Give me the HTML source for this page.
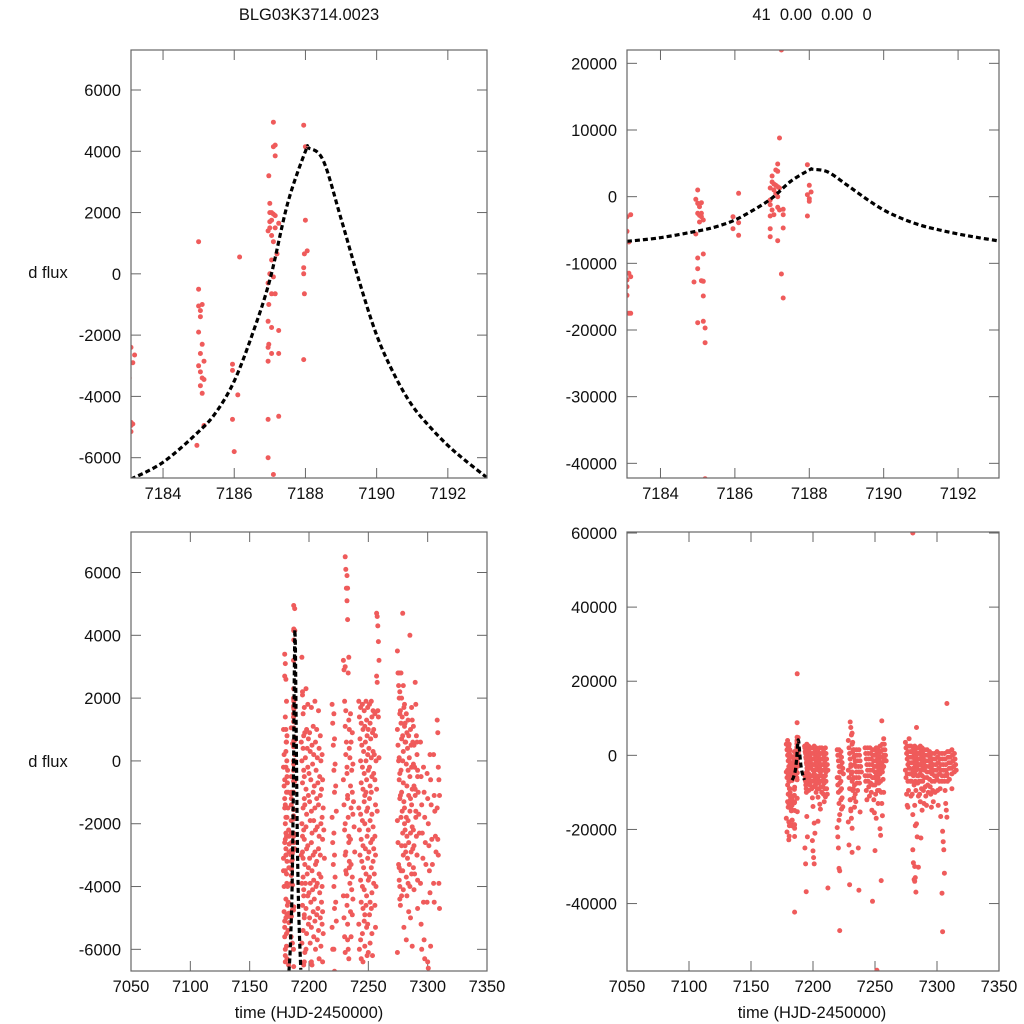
<!DOCTYPE html>
<html><head><meta charset="utf-8">
<style>
html,body{margin:0;padding:0;background:#fff;}
svg{display:block;font-family:"Liberation Sans",Arial,sans-serif;}
</style></head>
<body>
<svg id="chart" width="1024" height="1024" viewBox="0 0 1024 1024">
<defs>
<clipPath id="c0"><rect x="131" y="50" width="356" height="428"/></clipPath>
<clipPath id="c1"><rect x="627" y="50" width="372" height="428"/></clipPath>
<clipPath id="c2"><rect x="131" y="532" width="356" height="439"/></clipPath>
<clipPath id="c3"><rect x="627" y="532" width="372" height="439"/></clipPath>
</defs>
<text x="309" y="20" text-anchor="middle" font-size="16.5" fill="#111">BLG03K3714.0023</text>
<text x="812" y="20" text-anchor="middle" font-size="16.5" fill="#111" xml:space="preserve">41  0.00  0.00  0</text>
<text x="48" y="278" text-anchor="middle" font-size="16.5" fill="#111">d flux</text>
<text x="48" y="767" text-anchor="middle" font-size="16.5" fill="#111">d flux</text>
<text x="309" y="1018" text-anchor="middle" font-size="16.5" fill="#111">time (HJD-2450000)</text>
<text x="812" y="1018" text-anchor="middle" font-size="16.5" fill="#111">time (HJD-2450000)</text>
</svg>
<script>
// ---- model curve ----
const modelT = [7183.1,7184,7185,7185.5,7186,7186.5,7187,7187.5,7188,7188.1,7188.5,7189,7189.5,7190,7190.5,7191,7191.5,7192,7192.5,7193.1];
const modelF = [-6700,-6150,-5150,-4500,-3500,-2000,-200,2300,4000,4100,3700,1800,-200,-2000,-3300,-4300,-5000,-5600,-6100,-6650];

// ---- dataset 1 (left panels), zoom points ----
const d1T = [7183.1,7183.15,7183.2,7183.05,7183.1,7183.15,7183.1,7183.1,7185.0,7185.0,7185.0,7185.05,7185.1,7185.05,7185.0,7185.1,7185.05,7185.0,7185.05,7185.1,7185.15,7185.15,7185.05,7185.1,7185.15,7184.95,7185.95,7185.95,7186.15,7186.1,7185.95,7186.0,7187.1,7187.1,7187.15,7187.15,7186.97,7187.0,7187.0,7187.05,7187.1,7187.15,7187.0,7187.05,7186.95,7187.0,7187.15,7187.25,7187.05,7187.1,7187.2,7187.05,7187.0,7187.1,7186.95,7187.05,7187.15,7186.97,7186.95,7187.05,7187.25,7186.97,7186.95,7187.05,7187.25,7186.95,7186.95,7187.25,7186.95,7187.1,7187.95,7188.0,7188.0,7188.05,7187.97,7187.95,7187.95,7187.97,7187.95];
const d1F = [-2400,-2900,-2650,-3400,-4850,-4900,-4950,-5150,-500,1050,-1050,-1200,-1000,-1400,-1900,-2300,-2600,-3000,-3200,-3400,-3450,-2850,-3650,-3900,-4950,-5600,-2950,-3150,550,-3950,-4750,-5800,4950,4150,4200,3850,3200,2300,2000,2000,1950,1900,1700,1750,1400,1500,1500,1650,1250,1050,650,450,0,-100,-300,-650,-650,-1000,-1550,-1750,-1850,-2300,-2400,-2600,-2600,-2850,-4750,-4650,-6000,-6550,4850,4150,1750,750,650,200,0,-650,-2800];

// ---- dataset 1, full season, per night (kilo-flux) ----
const d1Nights = [7179.5,7180.5,7181.5,7181.8,7194.5,7195,7195.5,7197,7198.5,7200,7201.5,7203,7204.5,7206,7207.5,7209,7210.5,7212,7220.5,7222,7230,7231.5,7233,7234.5,7236,7237.5,7243,7244.5,7246,7247.5,7249,7250.5,7252,7253.5,7255,7256.5,7258,7275.5,7277,7278.5,7280,7281.5,7283,7284.5,7286,7287.5,7289,7290.5,7292,7295,7297.5,7300.5,7303,7306,7309];
const d1NightFlux = [
"1.0 0.2 -0.6 -1.4 -2.3 -3.1 -4.0 -5.1 -6.2 0.3 -0.2 -0.8 -1.5 -2.5 -3.0 -3.5 -4.8 -5.3 -6.0",
"2.7 1.4 -0.2 -1.0 -1.8 -2.6 -3.5 -4.4 -5.5 -6.3 3.4 3.1 1.0 0.6 -0.5 -1.2 -2.0 -2.8 -3.6 -4.9 -5.6 -6.4",
"2.6 1.9 0.8 -0.3 -1.0 -1.8 -2.4 -3.2 -4.0 -4.5 -5.0 -5.9",
"0.6 0.0 -0.7 -1.5 -2.2 -3.0 -3.9 -4.6 -5.4 -6.5",
"0.6 0.0 -0.7 -1.5 -2.2 -3.0 -3.9 -4.6 -5.4 -6.5",
"3.3 2.1 0.4 -0.3 -1.2 -2.0 -2.9 -3.7 -4.3 -4.9 -5.8",
"2.2 1.5 0.8 -0.5 -1.4 -2.4 -3.1 -4.1 -5.0 -6.1",
"1.7 0.9 0.1 -0.9 -1.7 -2.5 -3.3 -3.9 -4.7 -5.5 -6.4",
"2.3 1.0 0.4 -0.2 -1.1 -2.1 -2.8 -3.6 -4.3 -5.2 -6.0",
"1.8 0.7 -0.4 -1.3 -1.9 -2.7 -3.4 -4.2 -5.0 -5.8",
"0.9 0.3 -0.6 -1.6 -2.3 -3.1 -3.9 -4.5 -5.3 -6.5",
"1.7 0.5 -0.1 -1.0 -1.9 -2.6 -3.5 -4.1 -4.8 -5.6 -6.4",
"1.1 0.2 -0.8 -1.5 -2.2 -3.0 -3.8 -4.4 -5.1 -6.0",
"1.9 0.6 -0.3 -1.2 -2.1 -2.9 -3.3 -4.0 -4.9 -5.7",
"1.0 0.1 -0.7 -1.4 -2.4 -3.2 -3.9 -4.7 -5.4 -6.3",
"1.6 0.4 -0.5 -1.1 -2.0 -2.8 -3.6 -4.2 -5.0 -5.9",
"0.8 0.0 -0.9 -1.8 -2.5 -3.0 -3.7 -4.5 -5.2 -6.4",
"0.2 -0.6 -1.5 -2.2 -3.1 -4.0 -4.8 -5.5",
"1.8 1.2 0.5 -0.3 -1.0 -1.8 -2.6 -3.3 -4.0 -4.7 -5.3 -6.0",
"1.5 0.7 -0.1 -0.8 -1.6 -2.3 -3.0 -3.7 -4.5 -5.1 -6.0 -6.7",
"3.2 2.9 1.9 1.1 0.2 -0.6 -1.4 -2.2 -3.0 -3.5 -4.3 -5.0 -5.6",
"6.5 6.1 5.5 5.1 4.5 3.0 1.6 0.6 -0.2 -1.2 -2.0 -2.9 -3.6 -4.6 -5.7 -6.1",
"5.9 5.5 2.8 1.3 0.4 -0.4 -1.1 -1.8 -2.6 -3.4 -4.3 -5.2 -6.0",
"3.3 1.0 0.1 -0.8 -1.5 -2.4 -3.2 -3.9 -4.8 -5.6 -6.3",
"1.5 0.6 -0.3 -1.0 -1.7 -2.5 -3.3 -4.1 -4.9",
"0.9 -0.1 -1.3 -2.1 -2.9 -3.7 -4.4",
"1.9 1.4 0.7 0.0 -0.7 -1.5 -2.2 -3.0 -3.8 -4.5 -5.2 -6.0",
"1.7 1.2 0.5 -0.2 -0.9 -1.7 -2.5 -3.2 -4.0 -4.7 -5.7 -6.3",
"1.8 1.0 0.3 -0.4 -1.1 -1.9 -2.7 -3.4 -4.1 -4.9 -5.5 -6.4",
"1.6 1.1 0.6 0.0 -0.6 -1.3 -2.0 -2.8 -3.6 -4.3 -5.1 -5.9",
"1.9 1.3 0.8 0.2 -0.3 -1.0 -1.6 -2.4 -3.1 -3.8 -4.6 -5.3 -6.2",
"1.7 1.0 0.4 -0.2 -0.8 -1.5 -2.2 -2.9 -3.7 -4.5 -5.2 -6.1",
"1.8 1.2 0.7 0.1 -0.5 -1.2 -1.9 -2.6 -3.4 -4.2 -4.9 -5.8",
"1.9 1.4 0.9 0.3 -0.4 -1.0 -1.7 -2.5 -3.2 -3.9 -4.7 -5.5 -6.2",
"1.6 1.0 0.2 -0.6 -1.4 -2.1 -2.8 -3.6 -4.6 -5.3",
"1.5 0.8 0.0 -0.9 -1.6 -2.4 -3.0 -4.0",
"4.7 4.6 4.3 3.8 3.2 2.7 2.5 1.6 1.4 0.1",
"3.5 2.8 2.4 2.0 1.5 1.0 0.5 0.0 -0.6 -1.2 -1.9 -2.6 -3.3 -3.8 -4.4 -6.1",
"2.8 2.2 1.6 1.2 0.7 0.1 -0.4 -1.1 -1.8 -2.7 -3.4 -4.0 -4.6",
"2.8 2.0 1.4 0.8 0.3 -0.3 -1.0 -1.6 -2.3 -3.0 -3.5 -4.3",
"4.7 2.4 1.7 1.1 0.6 0.0 -0.7 -1.3 -2.0 -2.7 -3.5 -4.1 -5.3",
"1.8 1.2 0.6 -0.1 -0.8 -1.5 -2.2 -2.9 -3.7 -4.3",
"1.5 0.9 0.4 -0.3 -1.1 -1.8 -2.4 -3.1 -3.9 -4.8 -5.7",
"1.3 0.8 0.1 -0.5 -1.2 -1.9 -2.6 -3.3 -4.0 -5.0",
"4.0 1.0 0.5 -0.2 -0.9 -1.6 -2.3 -2.9 -3.6 -5.9",
"1.7 1.3 0.6 -0.1 -0.8 -1.4 -2.1 -2.8 -3.4 -4.1",
"1.1 0.5 -0.2 -0.9 -1.6 -2.2 -2.7 -3.6",
"2.5 1.8 0.8 0.2 -0.5 -1.1 -1.8 -2.4 -3.0 -4.7",
"0.6 -0.3 -1.0 -1.7 -2.3 -3.0 -3.8",
"0.6 -0.5 -1.4 -2.3 -3.1 -3.9 -5.2 -6.0",
"-0.2 -1.0 -1.8 -2.6 -3.3 -4.5 -5.7 -6.3",
"-0.4 -1.2 -2.0 -2.7 -3.5 -4.5 -6.4 -6.6",
"0.2 -0.6 -1.4 -2.5 -3.3 -4.2 -5.9",
"0.2 -1.1 -1.6 -2.4 -2.9 -3.9 -4.5",
"1.3 0.9 -0.2 -0.6 -1.1 -1.5 -2.5 -3.0 -3.9 -4.7"];

// ---- dataset 2 (right panels), zoom points ----
const d2T = [7183.05,7183.1,7183.2,7183.0,7183.05,7183.1,7183.15,7183.0,7183.1,7183.15,7183.2,7183.1,7183.1,7183.15,7183.2,7183.05,7185.0,7184.95,7185.0,7185.1,7185.05,7185.0,7185.05,7185.1,7185.15,7185.05,7185.1,7184.95,7185.15,7185.0,7185.0,7184.9,7185.1,7185.15,7185.15,7185.0,7185.15,7185.2,7185.2,7185.2,7185.95,7185.95,7186.1,7186.1,7186.1,7187.25,7187.2,7187.15,7187.1,7187.15,7187.0,7187.0,7187.05,7187.1,7187.15,7187.2,7186.95,7187.05,7187.1,7187.15,7186.95,7186.95,7187.0,7187.05,7187.15,7187.2,7187.3,7187.3,7186.95,7186.95,7187.3,7186.95,7187.15,7187.25,7187.3,7187.95,7188.0,7188.05,7187.95,7188.0,7188.0,7187.95];
const d2F = [-2500,-3000,-2700,-3300,-5000,-5200,-6800,-11000,-12500,-11500,-12000,-13500,-14800,-17500,-17500,-18800,1000,-400,-1000,-900,-1500,-2500,-2800,-3000,-3500,-3800,-2500,-5600,-8600,-9200,-10800,-12800,-12600,-12700,-14900,-18900,-18700,-19700,-21900,-42300,-3000,-4800,-3900,-5800,500,22000,8800,4900,4000,3800,3100,2200,1900,1700,1500,1300,1300,1000,500,0,-500,-1200,-2000,-2700,-1600,-2000,-1900,-2700,-2900,-4800,-4700,-6000,-6600,-11600,-15200,4800,1700,700,300,-300,-700,-2900];

// ---- dataset 2, full season, per night (kilo-flux) ----
const d2Nights = [7179.5,7180.5,7181.5,7181.8,7194.2,7194.5,7196,7197.5,7199,7200.5,7202,7203.5,7205,7206.5,7208,7209.5,7211,7220.5,7222,7223.5,7229.5,7231,7232.5,7234,7236,7238,7243,7245,7247,7249,7250.5,7252,7253.5,7255,7256.5,7258,7275.5,7277,7278.5,7280,7281.5,7283,7284.5,7286,7287.5,7289,7291,7293,7295,7297,7299,7301,7303,7305,7307,7309,7311,7313,7315];
const d2NightFlux = [
"3 1.5 0 -1.5 -3 -4.5 -6 -8 -10.5 -13 -17 -20.7",
"4 2 0.5 -1 -2.5 -4 -5.5 -7 -9 -11 -12.5 -14 -22.8",
"2.5 1 -0.5 -2 -3.5 -5 -7 -10 -13 -15 -18 -19",
"3 1.5 0 -2 -4 -6 -9 -12 -14.5 -19 -21.8",
"2.5 1 -0.5 -2 -3.5 -5 -6.5 -8 -10",
"2 0.5 -1 -2.5 -4 -5.5 -7 -9 -16.5 -22 -25 -29.3 -36.8",
"3 1.5 0 -1.5 -3 -4.5 -6 -7.5 -9.5",
"2.5 1 -0.5 -2 -3.5 -5 -6.5 -8",
"2 0.5 -1 -2.5 -4 -5.5 -7 -9 -11.5 -13.8",
"2 0.5 -1 -2.5 -4 -5.5 -7 -8.5 -18.3 -21 -23 -25.8 -27.6 -29.3",
"2.5 1 -0.5 -2 -3.5 -5 -6.5 -8 -10",
"2 0.5 -1 -2.5 -4 -5.5 -7 -9 -11.3",
"1.5 0 -1.5 -3 -4.5 -6 -7.5 -9 -13.2 -14.5 -17.8",
"2 0.5 -1 -2.5 -4 -5.5 -7 -8.5 -10",
"2 0.5 -1 -2.5 -4 -5.5 -7 -8.5 -10.5 -12.5",
"1.5 0 -1.5 -3 -4.5 -6 -7.5 -9 -11.2",
"2 0.5 -1 -2.5 -4 -5.5 -7 -9 -10.5 -35.8",
"1.5 0 -1.5 -3 -4.5 -6 -8 -10 -13 -16 -19.5 -22 -25 -30.5 -31.2",
"1.5 0 -1.5 -3 -4.5 -6 -7.5 -9.5 -12 -14.5 -17.5 -47.3",
"1 -0.5 -2 -3.5 -5 -7 -9 -11.5 -13.9",
"4 2 0.5 -1 -2.5 -4 -6 -9 -12 -15 -18 -24.2 -34.9",
"9 7.5 5.5 3 1 -1 -3 -5 -7 -9.5 -12 -14.5 -17 -19.7",
"6 3.5 1.5 -0.5 -2.5 -4.5 -6.5 -9 -11.5 -14 -26.2",
"1.5 0 -1.5 -3 -4.5 -6 -8 -10.5 -12.5",
"1.5 0 -1.5 -3 -4.5 -6 -7.5 -9.5 -25 -36.4",
"1.5 0 -1.5 -3 -4.5 -6 -7.5 -15.3",
"2 0.5 -1 -2.5 -4 -5.5 -7 -9.5 -12",
"2 0.5 -1 -2.5 -4 -5.5 -7 -8.5 -11",
"2 0.5 -1 -2.5 -4 -5.5 -7.5 -10 -14.8",
"1.5 0 -1.5 -3 -4.5 -6 -8 -12 -15.5 -25.7 -39.4",
"1.5 0 -1.5 -3 -4.5 -6 -8 -10.5 -17 -58",
"2 0.5 -1 -2.5 -4 -5.5 -7 -9.5 -13",
"1.5 0 -1.5 -3 -4.5 -6 -7.5 -9.5",
"2.5 1 -0.5 -2 -3.5 -5 -7 -10 -13 -16.3 -19.8 -21.6 -33.8",
"9.3 3 1.5 0 -1.5 -3 -4.5 -6.5 -10",
"4.5 3 1.5 0 -1.5 -3 -1",
"3.5 2 0.5 -1 -2.5 -4 -6 -10.5 -13.5 -14",
"2.5 1 -0.5 -2 -3.5 -5 -7 -9.5",
"4.5 2.5 1 -0.5 -2 -3.5 -5 -7 -11",
"2.5 1 -0.5 -2 -3.5 -5 -7 -10.5 -16",
"60 2 0.5 -1 -2.5 -4 -5.5 -8 -13.5 -19 -25.5 -29 -33.5 -34",
"2.5 1 -0.5 -2 -3.5 -5 -7 -9.5 -18.5 -22 -30 -33 -36.9",
"7.5 2 0.5 -1 -2.5 -4 -5.5 -7.5 -11",
"2 0.5 -1 -2.5 -4 -5.5 -7 -10.5 -12.5 -22.3 -30.2",
"2.5 1 -0.5 -2 -3.5 -5 -7 -9 -14.8",
"2 0.5 -1 -2.5 -4 -5.5 -7 -9.5 -13",
"1.5 0 -1.5 -3 -4.5 -6 -8.5 -11 -13.5",
"1.5 0 -1.5 -3 -4.5 -6 -8 -10",
"1 -0.5 -2 -3.5 -5 -6.5 -8.5 -10.5 -14",
"0.5 -1 -2.5 -4 -5.5 -7 -9.5 -12.5",
"0.5 -1 -2.5 -4 -5.5 -7 -10",
"1 -0.5 -2 -3.5 -5 -6.5 -9.5 -13.5",
"0.5 -1 -2.5 -4 -5.5 -7 -9 -16.5",
"0.5 -1 -2.5 -4 -5.5 -7 -20.5 -23.3 -25.5 -31.8 -37.2 -47.6",
"0.5 -1 -2.5 -4 -5.5 -7 -9.5 -13 -14.8 -16.7",
"14 1 -0.5 -2 -3.5 -5 -7",
"1 -0.5 -2 -3.5 -5 -6.5",
"1.5 0 -1.5 -3 -4.5 -9",
"0.5 -1 -2.5 -4"];

// ---- tick labels ----
const zoomXTicks = [7184,7186,7188,7190,7192];
const seasonXTicks = [7050,7100,7150,7200,7250,7300,7350];
const tlYTicks = [-6000,-4000,-2000,0,2000,4000,6000];
const trYTicks = [-40000,-30000,-20000,-10000,0,10000,20000];
const blYTicks = [-6000,-4000,-2000,0,2000,4000,6000];
const brYTicks = [-40000,-20000,0,20000,40000,60000];

const NS = 'http://www.w3.org/2000/svg';
const svg = document.getElementById('chart');
function mk(tag, attrs, parent){ const e=document.createElementNS(NS,tag); for(const k in attrs) e.setAttribute(k,attrs[k]); (parent||svg).appendChild(e); return e; }

function expand(nights, fluxStrs){
  const t=[], f=[];
  nights.forEach((n,i)=>{ fluxStrs[i].trim().split(/\s+/).forEach((v,j)=>{ t.push(n + ((j%5)-2)*0.5); f.push(parseFloat(v)*1000); }); });
  return [t,f];
}
const d1Season = expand(d1Nights, d1NightFlux);
const d2Season = expand(d2Nights, d2NightFlux);

function panel(p){
  const sx = v => p.x0 + (v - p.xmin)/(p.xmax - p.xmin)*(p.x1 - p.x0);
  const sy = v => p.y1 - (v - p.ymin)/(p.ymax - p.ymin)*(p.y1 - p.y0);
  const g = mk('g',{});
  
  
  p.xticks.forEach(v=>{
    const x=sx(v);
    const t1=mk('line',{x1:x,y1:p.y1,x2:x,y2:p.y1-10,stroke:'#666','stroke-width':1},g);
    
    
    const t2=mk('line',{x1:x,y1:p.y0,x2:x,y2:p.y0+10,stroke:'#666','stroke-width':1},g);
    
    
    const lb=mk('text',{x:x,y:p.y1+21,'text-anchor':'middle','font-size':16.5,fill:'#111'},g);
    lb.textContent=v;
    
    
  });
  p.yticks.forEach(v=>{
    const y=sy(v);
    const t1=mk('line',{x1:p.x0,y1:y,x2:p.x0+10,y2:y,stroke:'#666','stroke-width':1},g);
    
    
    const t2=mk('line',{x1:p.x1,y1:y,x2:p.x1-10,y2:y,stroke:'#666','stroke-width':1},g);
    
    
    const lb=mk('text',{x:p.x0-10,y:y+6,'text-anchor':'end','font-size':16.5,fill:'#111'},g);
    lb.textContent=v;
    
    
  });
  const pg = mk('g',{'clip-path':'url(#'+p.clip+')',fill:'#ef5b5b'},g);
  
  
  p.series.forEach(s=>{
    s[0].forEach((t,i)=>{
      if(t < p.xmin-1 || t > p.xmax+1) return;
      const c=mk('circle',{cx:sx(t).toFixed(1),cy:sy(s[1][i]).toFixed(1),r:2.5},pg);
      
      
    });
  });
  const pts = modelT.map((t,i)=>[sx(t),sy(modelF[i])]);
  let d='M'+pts[0][0]+','+pts[0][1];
  for(let i=0;i<pts.length-1;i++){
    const p0=pts[Math.max(0,i-1)],p1=pts[i],p2=pts[i+1],p3=pts[Math.min(pts.length-1,i+2)];
    d+=' C'+(p1[0]+(p2[0]-p0[0])/6)+','+(p1[1]+(p2[1]-p0[1])/6)+' '+(p2[0]-(p3[0]-p1[0])/6)+','+(p2[1]-(p3[1]-p1[1])/6)+' '+p2[0]+','+p2[1];
  }
  const cv=mk('path',{d:d,fill:'none',stroke:'#000','stroke-width':3.2,'stroke-dasharray':'5 3','clip-path':'url(#'+p.clip+')'},g);
  
  
  const fr=mk('rect',{x:p.x0,y:p.y0,width:p.x1-p.x0,height:p.y1-p.y0,fill:'none',stroke:'#666','stroke-width':1.2},g);
  
  
}

panel({name:'panel-zoom-dataset1',clip:'c0',x0:131,x1:487,y0:50,y1:478,xmin:7183.1,xmax:7193.1,ymin:-6663,ymax:7305,xticks:zoomXTicks,yticks:tlYTicks,series:[[d1T,d1F]]});
panel({name:'panel-zoom-dataset2',clip:'c1',x0:627,x1:999,y0:50,y1:478,xmin:7183.1,xmax:7193.1,ymin:-42200,ymax:22000,xticks:zoomXTicks,yticks:trYTicks,series:[[d2T,d2F]]});
panel({name:'panel-season-dataset1',clip:'c2',x0:131,x1:487,y0:532,y1:971,xmin:7050,xmax:7350,ymin:-6690,ymax:7290,xticks:seasonXTicks,yticks:blYTicks,series:[d1Season,[d1T,d1F]]});
panel({name:'panel-season-dataset2',clip:'c3',x0:627,x1:999,y0:532,y1:971,xmin:7050,xmax:7350,ymin:-58200,ymax:60270,xticks:seasonXTicks,yticks:brYTicks,series:[d2Season,[d2T,d2F]]});
</script>
</body></html>
